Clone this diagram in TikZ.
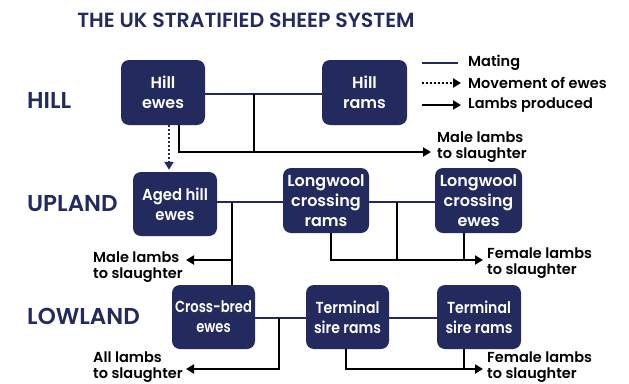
\documentclass[tikz,border=0pt]{standalone}
\usepackage{fontspec}
\setmainfont{Poppins}[BoldFont={* SemiBold}]
\usetikzlibrary{arrows.meta,calc}
\definecolor{navy}{RGB}{35,42,94}
\begin{document}
\begin{tikzpicture}[x=1pt,y=-1pt,
  box/.style={fill=navy,rounded corners=8pt,text=white,align=center,inner sep=0pt,
    font=\fontsize{16}{20}\selectfont\bfseries},
  squeeze/.style={font=\fontsize{16}{20}\selectfont\bfseries\addfontfeatures{FakeStretch=#1}},
  level/.style={anchor=west,text=navy,inner sep=0pt,font=\fontsize{23}{27}\selectfont\bfseries},
  lbl/.style={anchor=west,align=left,inner sep=0pt,font=\fontsize{14.5}{16}\selectfont\bfseries},
  mating/.style={draw=navy,line width=2.7pt},
  lamb/.style={draw=black,line width=2.7pt},
  move/.style={draw=navy,line width=2pt,dash pattern=on 2pt off 2pt},
  tip/.style={-{Triangle[length=8pt,width=9pt]}}
]
\useasboundingbox (0,0) rectangle (629,383);

% title
\node[text=navy,inner sep=0pt,font=\fontsize{20.5}{25}\selectfont\bfseries] (title) at (246,20) {THE UK STRATIFIED SHEEP SYSTEM};

% levels
\node[level] (hill) at (27,100) {HILL};
\node[level] (upland) at (27,204) {UPLAND};
\node[level] (lowland) at (27,316) {LOWLAND};

% boxes
\node[box,minimum width=84pt,minimum height=65pt] (he) at (163,92.5) {Hill\\ewes};
\node[box,minimum width=85pt,minimum height=65pt] (hr) at (364.5,92.5) {Hill\\rams};
\node[box,squeeze=0.93,minimum width=84pt,minimum height=64pt] (ah) at (175,204) {Aged hill\\ewes};
\node[box,minimum width=86pt,minimum height=65pt] (lr) at (326,200.5) {Longwool\\crossing\\rams};
\node[box,minimum width=87pt,minimum height=65pt] (le) at (478.5,200.5) {Longwool\\crossing\\ewes};
\node[box,squeeze=0.82,minimum width=83pt,minimum height=64pt] (cb) at (213.5,317) {Cross-bred\\ewes};
\node[box,squeeze=0.88,minimum width=83pt,minimum height=64pt] (t1) at (347.5,317) {Terminal\\sire rams};
\node[box,squeeze=0.88,minimum width=84pt,minimum height=64pt] (t2) at (479,317) {Terminal\\sire rams};

% legend
\coordinate (lg1a) at (422,63); \coordinate (lg1b) at (458,63);
\coordinate (lg2a) at (422,83); \coordinate (lg2b) at (461,83);
\coordinate (lg3a) at (422,105); \coordinate (lg3b) at (461,105);
\draw[mating] (lg1a) -- (lg1b);
\draw[move,draw=black,tip] (lg2a) -- (lg2b);
\draw[lamb,tip] (lg3a) -- (lg3b);
\node[lbl] (lt1) at (468,63) {Mating};
\node[lbl] (lt2) at (468,83) {Movement of ewes};
\node[lbl] (lt3) at (468,105) {Lambs produced};

% outcome labels
\node[lbl] (o1) at (437,147) {Male lambs\\to slaughter};
\node[lbl] (o2) at (93,267) {Male lambs\\to slaughter};
\node[lbl] (o3) at (487,263) {Female lambs\\to slaughter};
\node[lbl] (o4) at (93,367) {All lambs\\to slaughter};
\node[lbl] (o5) at (487,367) {Female lambs\\to slaughter};

% junctions and arrow ends
\coordinate (j1) at (254,94);
\coordinate (a1) at (431,152);
\coordinate (j2) at (232,202);
\coordinate (a2) at (186,260);
\coordinate (j3) at (397,202);
\coordinate (a3) at (483,260);
\coordinate (j4) at (279,318);
\coordinate (a4) at (186,369);
\coordinate (a5) at (483,369);

% hill
\draw[mating] (he.east |- j1) -- (hr.west |- j1);
\draw[lamb] (j1) -- (j1 |- a1);
\draw[lamb,tip] ($(he.south)+(16,0)$) |- (a1);
\draw[move,tip] ($(he.south)+(6,0)$) -- ($(ah.north)+(-6,-2)$);

% upland
\draw[mating] (ah.east |- j2) -- (lr.west |- j2);
\draw[mating] (lr.east |- j2) -- (le.west |- j2);
\draw[lamb] (j2) -- (j2 |- cb.north);
\draw[lamb,tip] (j2 |- a2) -- (a2);
\draw[lamb] (j3) -- (j3 |- a3);
\draw[lamb,tip] ($(lr.south)+(5,0)$) |- (a3);
\draw[lamb] ($(le.south)+(-14.5,0)$) -- ($(le.south)+(-14.5,27)$);

% lowland
\draw[mating] (cb.east |- j4) -- (t1.west |- j4);
\draw[mating] (t1.east |- j4) -- (t2.west |- j4);
\draw[lamb,tip] (j4) |- (a4);
\draw[lamb,tip] ($(t1.south)+(-1.5,0)$) |- (a5);
\draw[lamb] ($(t2.south)+(-15,0)$) -- ($(t2.south)+(-15,20)$);
\end{tikzpicture}
\end{document}
